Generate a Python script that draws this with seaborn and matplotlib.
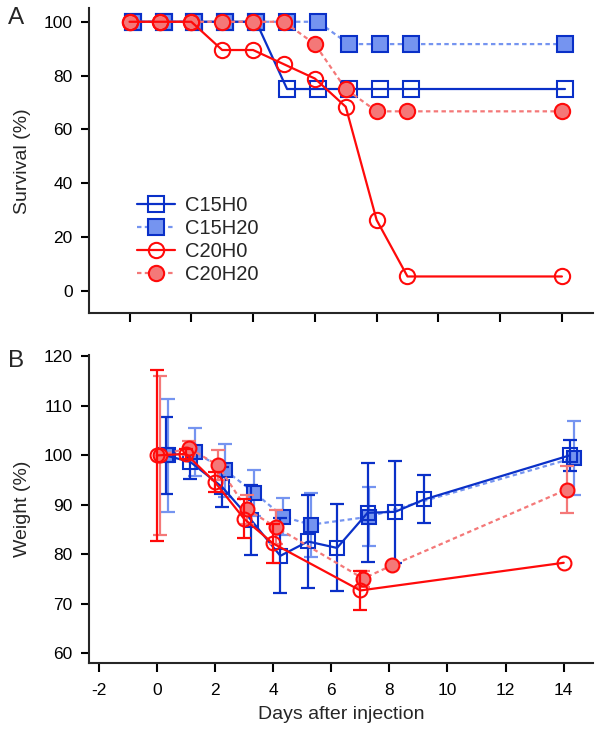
import numpy as np
import pandas as pd
import seaborn as sns
import matplotlib.pyplot as plt

# survival (panel A)
surv_days_c15 = [0.1, 1.1, 2.1, 3.1, 4.1, 5.1, 6.1, 7.1, 8.1, 9.1, 14.1]
surv_days_c20 = [0, 1, 2, 3, 4, 5, 6, 7, 8, 9, 14]
surv_c15h0 = [100, 100, 100, 100, 100, 75, 75, 75, 75, 75, 75]
surv_c15h20 = [100, 100, 100, 100, 100, 100, 100, 91.7, 91.7, 91.7, 91.7]
surv_c20h0 = [100, 100, 100, 89.5, 89.5, 84.2, 78.9, 68.4, 26.3, 5.3, 5.3]
surv_c20h20 = [100, 100, 100, 100, 100, 100, 91.7, 75, 66.7, 66.7, 66.7]

# weight (panel B)
w_days_c15h0 = [0.3, 1.15, 2.25, 3.25, 4.25, 5.2, 6.2, 7.25, 8.2, 9.2, 14.2]
w_c15h0 = [100, 98.7, 93.6, 86.9, 79.7, 82.6, 81.3, 88.4, 88.6, 91.1, 100]
err_c15h0 = [7.7, 3.5, 4.1, 7.1, 7.6, 9.3, 8.8, 10, 10.3, 4.85, 3.2]

w_days_c15h20 = [0.4, 1.3, 2.35, 3.35, 4.35, 5.3, 7.3, 14.35]
w_c15h20 = [100, 100.7, 97, 92.5, 87.6, 86, 87.6, 99.5]
err_c15h20 = [11.5, 4.9, 5.4, 4.65, 3.7, 6.5, 6, 7.4]

w_days_c20h0 = [0, 1, 2, 3, 4, 7, 14]
w_c20h0 = [100, 100.3, 94.6, 87.2, 82.2, 72.7, 78.3]
err_c20h0 = [17.2, 1, 2, 3.9, 4, 4, 0]

w_days_c20h20 = [0.1, 1.1, 2.1, 3.1, 4.1, 7.1, 8.1, 14.1]
w_c20h20 = [100, 101.5, 98, 89.1, 85.5, 75.1, 77.8, 93.1]
err_c20h20 = [16, 1.5, 3, 3, 3.4, 1.6, 0, 4.8]

dark_blue = '#0a30c8'
light_blue = '#7594f0'
red = '#ff0a0a'
light_red = '#f47878'

# marker, line colour, face colour, edge colour, linestyle, errbar colour
styles = {
    'C15H0': ('s', dark_blue, 'none', dark_blue, '-', dark_blue),
    'C15H20': ('s', light_blue, light_blue, dark_blue, (0, (2, 1.5)), light_blue),
    'C20H0': ('o', red, 'none', red, '-', red),
    'C20H20': ('o', light_red, light_red, red, (0, (2, 1.5)), light_red),
}

surv = {
    'C15H0': (surv_days_c15, surv_c15h0),
    'C15H20': (surv_days_c15, surv_c15h20),
    'C20H0': (surv_days_c20, surv_c20h0),
    'C20H20': (surv_days_c20, surv_c20h20),
}
weight = {
    'C15H0': (w_days_c15h0, w_c15h0, err_c15h0),
    'C15H20': (w_days_c15h20, w_c15h20, err_c15h20),
    'C20H0': (w_days_c20h0, w_c20h0, err_c20h0),
    'C20H20': (w_days_c20h20, w_c20h20, err_c20h20),
}

sns.set_style("ticks")
plt.rcParams['font.family'] = ['Liberation Sans', 'DejaVu Sans']
plt.rcParams['axes.unicode_minus'] = False
plt.rcParams['axes.linewidth'] = 1.5
plt.rcParams['xtick.major.width'] = 1.5
plt.rcParams['ytick.major.width'] = 1.5
plt.rcParams['xtick.major.size'] = 6.3
plt.rcParams['ytick.major.size'] = 6

fig = plt.figure(figsize=(6, 7.3), dpi=100)
axA = fig.add_axes([0.149, 0.5708, 0.839, 0.4178])
axB = fig.add_axes([0.149, 0.0922, 0.839, 0.4215])

order = ['C15H0', 'C15H20', 'C20H0', 'C20H20']
zs = {'C15H20': 2, 'C15H0': 3, 'C20H20': 4, 'C20H0': 5}

# panel A
for name in order:
    m, lc, fc, ec, ls, _ = styles[name]
    df = pd.DataFrame({'day': surv[name][0], 'val': surv[name][1]})
    sns.lineplot(data=df, x='day', y='val', ax=axA, color=lc, marker=m,
                 markersize=11, mfc=fc, mec=ec, mew=1.5, linestyle=ls,
                 linewidth=1.6, label=name, zorder=zs[name])

# panel B
for name in order:
    m, lc, fc, ec, ls, errc = styles[name]
    d, v, e = weight[name]
    df = pd.DataFrame({'day': d, 'val': v, 'err': e})
    eb = df[df['err'] > 0]
    axB.errorbar(eb['day'], eb['val'], yerr=eb['err'], fmt='none',
                 ecolor=errc, elinewidth=1.6, capsize=5, capthick=1.6,
                 zorder=zs[name])
    sns.lineplot(data=df, x='day', y='val', ax=axB, color=lc, marker=m,
                 markersize=10, mfc=fc, mec=ec, mew=1.5, linestyle=ls,
                 linewidth=1.6, zorder=zs[name] + 0.5, legend=False)

axA.set_xlim(-1.3, 15)
axA.set_ylim(-8.4, 105)
axA.set_xticks(np.arange(0, 15, 2))
axA.set_xticklabels([])
axA.set_yticks(np.arange(0, 101, 20))
axA.set_xlabel('')
axA.set_ylabel('Survival (%)', fontsize=14, labelpad=9)

axB.set_xlim(-2.32, 15)
axB.set_ylim(58.1, 120.3)
axB.set_xticks(np.arange(-2, 15, 2))
axB.set_yticks(np.arange(60, 121, 10))
axB.set_xlabel('Days after injection', fontsize=14, labelpad=6)
axB.set_ylabel('Weight (%)', fontsize=14, labelpad=9)

for ax in (axA, axB):
    ax.tick_params(labelsize=12.5, colors='black', pad=6)
    sns.despine(ax=ax)
axB.tick_params(axis='x', pad=8)

axA.legend(loc='upper left', bbox_to_anchor=(0.095, 0.385), frameon=False,
           fontsize=14.5, handlelength=1.9, handletextpad=0.45,
           labelspacing=0.2, borderpad=0, borderaxespad=0)

fig.text(0.0133, 0.967, 'A', fontsize=17.5, va='baseline')
fig.text(0.0133, 0.497, 'B', fontsize=17.5, va='baseline')

plt.savefig('out.png')
